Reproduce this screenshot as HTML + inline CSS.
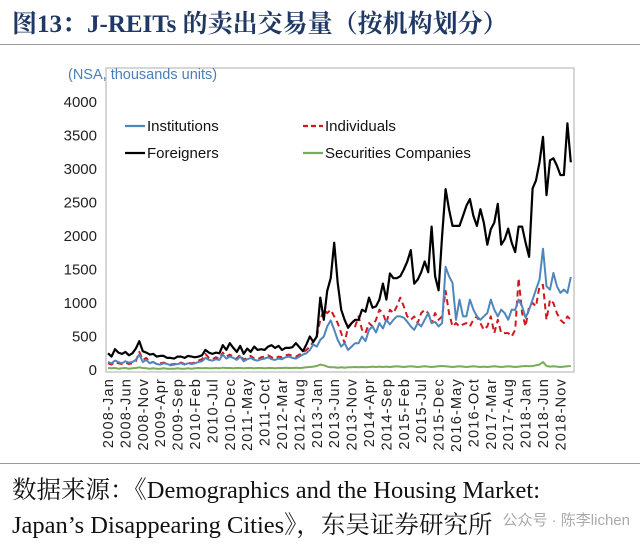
<!DOCTYPE html>
<html><head><meta charset="utf-8"><style>
body{margin:0;width:640px;height:544px;background:#fff;overflow:hidden;font-family:"Liberation Sans","Noto Sans CJK SC",sans-serif;position:relative}
.title{position:absolute;left:12px;top:4px;font:bold 25px "Liberation Serif","Noto Serif CJK SC",serif;color:#1f3864}
.src{position:absolute;left:12px;font:24.5px "Liberation Serif","Noto Serif CJK SC",serif;color:#111}
.wm{position:absolute;right:10px;top:509px;font:15px "Liberation Sans","Noto Sans CJK SC",sans-serif;color:#aaa}
</style></head><body>
<div class="title">图13：J-REITs 的卖出交易量（按机构划分）</div>
<div style="position:absolute;left:0;top:44px;width:640px;height:1px;background:#999"></div>
<svg id="chart" width="640" height="544" style="position:absolute;left:0;top:0"></svg>
<div style="position:absolute;left:0;top:463px;width:640px;height:1px;background:#999"></div>
<div class="src" style="top:471px">数据来源：《Demographics and the Housing Market:</div>
<div class="src" style="top:506px">Japan’s Disappearing Cities》，东吴证券研究所</div>
<div class="wm">公众号 · 陈李lichen</div>
<script>
const yTicks=[0,500,1000,1500,2000,2500,3000,3500,4000];
const xLabels=["2008-Jan","2008-Jun","2008-Nov","2009-Apr","2009-Sep","2010-Feb","2010-Jul","2010-Dec","2011-May","2011-Oct","2012-Mar","2012-Aug","2013-Jan","2013-Jun","2013-Nov","2014-Apr","2014-Sep","2015-Feb","2015-Jul","2015-Dec","2016-May","2016-Oct","2017-Mar","2017-Aug","2018-Jan","2018-Jun","2018-Nov"];
const foreigners=[250,200,310,260,240,270,220,250,320,430,280,260,230,240,200,210,210,180,180,170,200,200,180,210,200,190,200,220,300,260,240,260,250,370,300,400,330,270,360,240,320,270,350,300,310,300,350,370,330,360,300,330,330,340,400,340,280,380,500,420,500,1080,750,1180,1370,1900,1300,900,750,630,700,750,750,900,870,1080,930,950,1050,1290,1050,1440,1370,1370,1400,1500,1620,1790,1290,1350,1460,1620,1460,2140,1400,1190,2000,2700,2400,2150,2150,2150,2300,2450,2550,2300,2150,2400,2200,1870,2100,2200,2480,1870,1950,2110,1900,1760,2140,2140,1900,1690,2710,2830,3100,3480,2610,3130,3160,3050,2910,2910,3680,3100];
const institutions=[120,100,140,120,100,130,110,120,150,230,120,150,100,120,90,80,100,90,70,80,90,100,80,100,90,100,120,130,180,150,140,160,150,230,170,200,180,150,200,130,160,180,150,140,160,170,190,160,150,170,160,190,200,180,170,200,230,250,300,380,350,450,500,650,740,600,450,350,400,300,350,400,400,500,430,600,650,560,700,620,750,680,750,800,800,780,720,650,600,700,650,750,850,700,720,650,700,1540,1400,1300,750,1050,800,800,1050,900,800,750,800,850,1050,900,800,900,850,750,900,900,1050,950,780,900,1050,1200,1350,1810,1250,1200,1450,1250,1150,1200,1150,1390];
const individuals=[100,80,120,100,90,110,90,100,130,270,150,180,110,120,90,100,110,90,80,90,100,110,90,110,100,110,140,160,240,180,160,190,170,260,200,230,200,170,230,150,190,210,170,160,190,200,220,190,170,200,190,220,230,210,200,230,260,300,350,420,500,750,900,850,900,800,700,550,400,650,700,650,800,600,550,700,650,750,900,850,700,900,850,950,1080,950,800,750,800,700,850,900,850,700,850,750,800,1180,850,650,700,650,680,700,650,750,800,700,600,650,800,550,750,550,550,550,500,600,1370,850,650,950,1000,950,1250,1270,750,1050,1000,850,750,700,800,750];
const securities=[30,25,30,20,25,30,20,25,30,40,30,25,20,25,20,20,25,20,20,20,25,20,20,25,20,25,30,25,30,25,25,30,25,35,30,30,25,30,30,25,30,30,25,30,30,25,30,30,25,30,30,35,30,30,35,30,35,40,45,50,60,80,70,50,40,40,35,40,35,40,40,45,40,45,40,45,50,45,50,45,50,45,50,55,50,45,50,55,50,45,50,55,50,45,50,55,60,55,50,45,50,55,50,45,50,55,50,45,50,45,50,55,50,45,50,55,50,45,50,55,60,55,60,70,80,120,60,50,55,50,45,50,55,60];
const NS="http://www.w3.org/2000/svg";
const svg=document.getElementById('chart');
const X0=108,DX=3.48,Y0=370,YS=33.5/500;
const xs=i=>X0+DX*i, ys=v=>Y0-v*YS;
function mk(t,a){const e=document.createElementNS(NS,t);for(const k in a)e.setAttribute(k,a[k]);svg.appendChild(e);return e;}
let e=mk('rect',{x:106,y:68,width:468,height:304,fill:'none',stroke:'#c8c8c8','stroke-width':1.5});


e=mk('text',{x:68,y:79,'font-size':14.5,fill:'#4a7ebb','font-family':'Liberation Sans'});e.textContent='(NSA, thousands units)';


yTicks.forEach(v=>{const t=mk('text',{x:97,y:ys(v)+5,'text-anchor':'end','font-size':15,fill:'#222','font-family':'Liberation Sans'});t.textContent=v;

});
xLabels.forEach((l,k)=>{const x=xs(k*5)+5;const t=mk('text',{x:x,y:378,'text-anchor':'end','font-size':14.5,'letter-spacing':1.2,fill:'#222','font-family':'Liberation Sans',transform:`rotate(-90 ${x} 378)`});t.textContent=l;

});
function line(arr,color,w,dash,name){const d=arr.map((v,i)=>(i?'L':'M')+xs(i).toFixed(1)+' '+ys(v).toFixed(1)).join(' ');
const p=mk('path',{d:d,fill:'none',stroke:color,'stroke-width':w,'stroke-linejoin':'round'});if(dash)p.setAttribute('stroke-dasharray',dash);

}
line(securities,'#77ac5a',2,null,'series-securities-companies');
line(individuals,'#d0191f',2,'6 4','series-individuals');
line(institutions,'#4f87bd',2,null,'series-institutions');
line(foreigners,'#000',2.2,null,'series-foreigners');
const leg=[['Institutions','#4f87bd',null,125,126],['Individuals','#d0191f','5 3',303,126],['Foreigners','#000',null,125,153],['Securities Companies','#77ac5a',null,303,153]];
leg.forEach(L=>{const l=mk('line',{x1:L[3],x2:L[3]+20,y1:L[4],y2:L[4],stroke:L[1],'stroke-width':2.2});if(L[2])l.setAttribute('stroke-dasharray',L[2]);


const t=mk('text',{x:L[3]+22,y:L[4]+5,'font-size':15,fill:'#111','font-family':'Liberation Sans'});t.textContent=L[0];

});
</script>
</body></html>
